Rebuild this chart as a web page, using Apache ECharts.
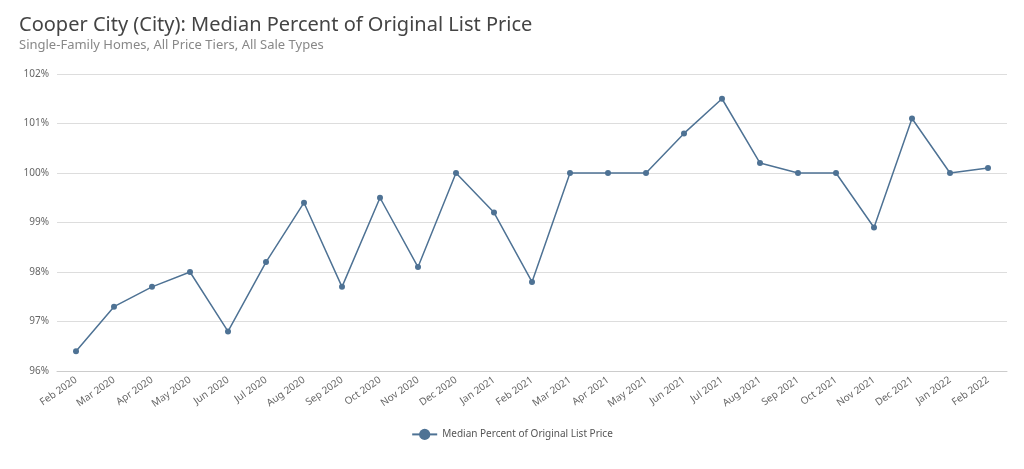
<!DOCTYPE html>
<html lang="en">
<head>
    <meta charset="UTF-8">
    <title>Cooper City</title>
    <script src="https://cdn.jsdelivr.net/npm/echarts@6/dist/echarts.min.js"></script>
    <style>
        html, body { margin: 0; padding: 0; background: #fff; }
        #chart { width: 1024px; height: 469px; }
    </style>
</head>
<body>
<div id="chart"></div>
<script>
    var months = ["Feb 2020","Mar 2020","Apr 2020","May 2020","Jun 2020","Jul 2020","Aug 2020","Sep 2020",
        "Oct 2020","Nov 2020","Dec 2020","Jan 2021","Feb 2021","Mar 2021","Apr 2021","May 2021","Jun 2021",
        "Jul 2021","Aug 2021","Sep 2021","Oct 2021","Nov 2021","Dec 2021","Jan 2022","Feb 2022"];
    var pctOfList = [96.4, 97.3, 97.7, 98.0, 96.8, 98.2, 99.4, 97.7, 99.5, 98.1, 100.0, 99.2, 97.8,
        100.0, 100.0, 100.0, 100.8, 101.5, 100.2, 100.0, 100.0, 98.9, 101.1, 100.0, 100.1];

    var myChart = echarts.init(document.getElementById("chart"));
    var font = "'Noto Sans', sans-serif";
    var option = {
        title: {
            text: 'Cooper City (City): Median Percent of Original List Price',
            subtext: 'Single-Family Homes, All Price Tiers, All Sale Types',
            left: 14, top: 10,
            textStyle: { fontFamily: font, fontSize: 20, fontWeight: 'normal', color: '#444' },
            subtextStyle: { fontFamily: font, fontSize: 13, color: '#888' },
            itemGap: 4
        },
        legend: {
            bottom: 24,
            data: ['Median Percent of Original List Price'],
            textStyle: { fontFamily: font, fontSize: 10, color: '#555' }
        },
        grid: { left: 57, right: 17, top: 74, bottom: 98 },
        xAxis: {
            type: 'category',
            data: months,
            boundaryGap: true,
            axisLine: { lineStyle: { color: '#ccc' } },
            axisTick: { show: false },
            axisLabel: { rotate: 35, interval: 0, fontFamily: font, fontSize: 10, color: '#666' }
        },
        yAxis: {
            type: 'value',
            min: 96, max: 102, interval: 1,
            axisLabel: { formatter: '{value}%', fontFamily: font, fontSize: 10, color: '#666' },
            splitLine: { lineStyle: { color: '#ddd' } }
        },
        series: [{
            name: 'Median Percent of Original List Price',
            type: 'line',
            data: pctOfList,
            symbol: 'circle',
            symbolSize: 6,
            itemStyle: { color: '#4e7294' },
            lineStyle: { color: '#4e7294', width: 1.5 }
        }]
    };
    myChart.setOption(option);
</script>
</body>
</html>
